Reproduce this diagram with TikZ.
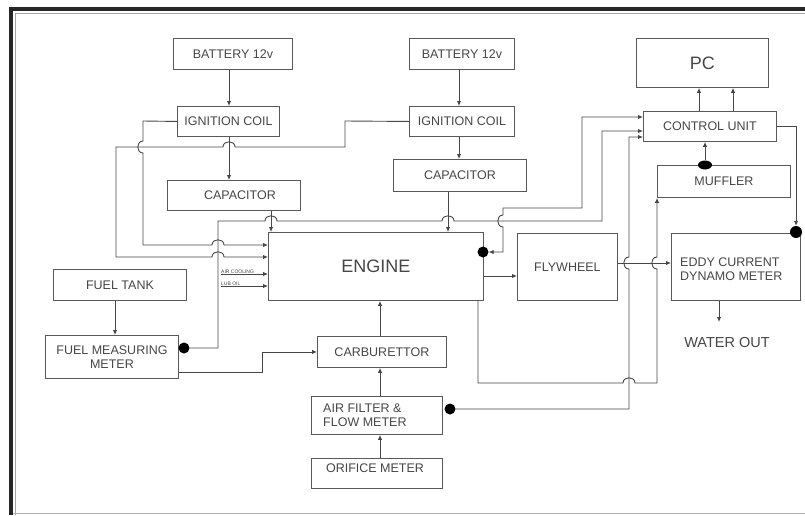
\documentclass[tikz,border=0pt]{standalone}
\usepackage{fontspec}
\setmainfont{Liberation Sans}
\usetikzlibrary{arrows.meta,shapes.geometric}
\tikzset{
  box/.style={draw=black!65, line width=0.9pt, anchor=north west, inner sep=0pt, text=black!72, font=\fontsize{12.5}{14.5}\selectfont, align=center},
  conn/.style={draw=black!72, line width=0.9pt},
  arr/.style={conn, -{Latex[length=5pt,width=4.5pt]}},
  dbl/.style={conn, {Latex[length=5pt,width=4.5pt]}-{Latex[length=5pt,width=4.5pt]}},
  dotn/.style={circle, fill=black, inner sep=0pt, minimum size=11pt},
  lbl/.style={text=black!72, inner sep=0pt}
}
\begin{document}
\begin{tikzpicture}[x=1pt,y=-1pt]
\useasboundingbox (0,0) rectangle (805,515);
\fill[white] (0,0) rectangle (805,515);
% frame
\draw[line width=3.5pt, black!85] (11,515) -- (11,9) -- (805,9);
\draw[line width=1pt, black!35] (15,515) -- (15,13) -- (805,13);
\draw[line width=1pt, black!30] (13,513) -- (805,513);

% boxes
\node[box, minimum width=119, minimum height=31] (batL) at (173,38) {BATTERY 12v};
\node[box, minimum width=102, minimum height=30] (ignL) at (177,106) {IGNITION COIL};
\node[box, minimum width=133, minimum height=30] (capL) at (167,180) {\hspace*{12pt}CAPACITOR};
\node[box, minimum width=105, minimum height=31] (batR) at (409,38) {BATTERY 12v};
\node[box, minimum width=105, minimum height=30] (ignR) at (409,106) {IGNITION COIL};
\node[box, minimum width=133, minimum height=32] (capR) at (393,159) {CAPACITOR};
\node[box, minimum width=132, minimum height=49, font=\fontsize{18}{20}\selectfont] (pc) at (636,38) {PC};
\node[box, minimum width=133, minimum height=30] (cu) at (643,111) {CONTROL UNIT};
\node[box, minimum width=133, minimum height=32] (muf) at (657,165) {MUFFLER};
\node[box, minimum width=215, minimum height=68, font=\fontsize{18}{20}\selectfont] (eng) at (268,232) {ENGINE};
\node[box, minimum width=100, minimum height=67] (fly) at (517,233) {FLYWHEEL};
\node[box, minimum width=129, minimum height=67] (eddy) at (671,233) {};
\node[lbl, anchor=west, font=\fontsize{12.5}{14}\selectfont, align=left] (eddyt) at (680,269) {EDDY CURRENT\\DYNAMO METER};
\node[box, minimum width=133, minimum height=31] (tank) at (53,269) {FUEL TANK};
\node[box, minimum width=133, minimum height=43] (fmm) at (45,335) {FUEL MEASURING\\METER};
\node[box, minimum width=129, minimum height=31] (carb) at (317,336) {CARBURETTOR};
\node[box, minimum width=131, minimum height=38] (air) at (311,396) {};
\node[lbl, anchor=west, font=\fontsize{12.5}{14}\selectfont, align=left] (airt) at (323,415) {AIR FILTER \&\\FLOW METER};
\node[box, minimum width=131, minimum height=30] (orif) at (311,458) {};
\node[lbl, font=\fontsize{12.5}{14}\selectfont] (orift) at (375,468) {ORIFICE METER};
\node[lbl, font=\fontsize{14.5}{16}\selectfont] (water) at (727,342) {WATER OUT};
\coordinate (wtip) at (719,322);

% small labels
\node[lbl, anchor=south west, font=\fontsize{5}{6}\selectfont] (aclab) at (221,274) {AIR COOLING};
\node[lbl, anchor=south west, font=\fontsize{5}{6}\selectfont] (loblab) at (221,286) {LUB OIL};

% dots
\node[dotn] (fmmdot) at (184,348) {};
\node[dotn] (airdot) at (450,409) {};
\node[dotn] (engdot) at (483,252) {};
\node[dotn, minimum size=12pt] (eddydot) at (796,232) {};
\node[ellipse, fill=black, inner sep=0pt, minimum width=14pt, minimum height=9pt] (mufdot) at (705,165) {};

% simple vertical arrows
\draw[arr] (229,0 |- batL.south) -- (229,0 |- ignL.north);
\draw[arr] (229,0 |- ignL.south) -- (229,0 |- capL.north);
\draw[arr] (459,0 |- batR.south) -- (459,0 |- ignR.north);
\draw[arr] (459,0 |- ignR.south) -- (459,0 |- capR.north);
\draw[arr] (271,0 |- capL.south) -- (271,0 |- eng.north);
\draw[arr] (448,0 |- capR.south) -- (448,0 |- eng.north);
\draw[arr] (115,0 |- tank.south) -- (115,0 |- fmm.north);
\draw[arr] (380,0 |- carb.north) -- (380,0 |- eng.south);
\draw[arr] (380,0 |- air.north) -- (380,0 |- carb.south);
\draw[arr] (380,0 |- orif.north) -- (380,0 |- air.south);
\draw[arr] (699,0 |- cu.north) -- (699,0 |- pc.south);
\draw[arr] (733,0 |- cu.north) -- (733,0 |- pc.south);
\draw[arr] (mufdot.north) -- (705,0 |- cu.south);
\draw[arr] (719,0 |- eddy.south) -- (wtip);

% horizontal arrows
\draw[arr] (eng.east |- 0,276) -- (fly.west |- 0,276);
\draw[arr] (fly.east |- 0,263) -- (eddy.west |- 0,263);
\draw[arr] (aclab.south west) -- (eng.west |- aclab.south);
\draw[arr] (loblab.south west) -- (eng.west |- loblab.south);

% ignition coil L -> engine
\draw[arr] (ignL.west) -- (143,121) -- (143,141) .. controls (136,141) and (136,153) .. (143,153)
  -- (143,245) -- (212,245) .. controls (212,238) and (224,238) .. (224,245) -- (eng.west |- 0,245);
% ignition coil R -> engine
\draw[arr] (ignR.west) -- (345,121) -- (345,147) -- (235,147) .. controls (235,140) and (223,140) .. (223,147)
  -- (116,147) -- (116,257) -- (212,257) .. controls (212,250) and (224,250) .. (224,257) -- (eng.west |- 0,257);
% fuel measuring meter -> control unit
\draw[arr] (fmmdot.east) -- (218,348) -- (218,221) -- (265,221) .. controls (265,214) and (277,214) .. (277,221)
  -- (442,221) .. controls (442,214) and (454,214) .. (454,221) -- (602,221) -- (602,131) -- (cu.west |- 0,131);
% engine speed <-> control unit
\draw[dbl] (engdot.east) -- (503,252) -- (503,227) .. controls (496,227) and (496,215) .. (503,215)
  -- (503,208) -- (582,208) -- (582,117) -- (cu.west |- 0,117);
% air flow -> control unit
\draw[arr] (airdot.east) -- (629,409) -- (629,269) .. controls (622,269) and (622,257) .. (629,257)
  -- (629,137) -- (cu.west |- 0,137);
% exhaust -> muffler
\draw[arr] (478,0 |- eng.south) -- (478,383) -- (623,383) .. controls (623,376) and (635,376) .. (635,383)
  -- (657,383) -- (657,269) .. controls (650,269) and (650,257) .. (657,257) -- (muf.south west);
% control unit -> eddy
\draw[arr] (cu.east |- 0,126) -- (796,126) -- (eddydot.north);
% fuel measuring meter -> carburettor
\draw[arr] (fmm.east |- 0,372) -- (262,372) -- (262,0 |- carb.west) -- (carb.west);
\end{tikzpicture}
\end{document}
